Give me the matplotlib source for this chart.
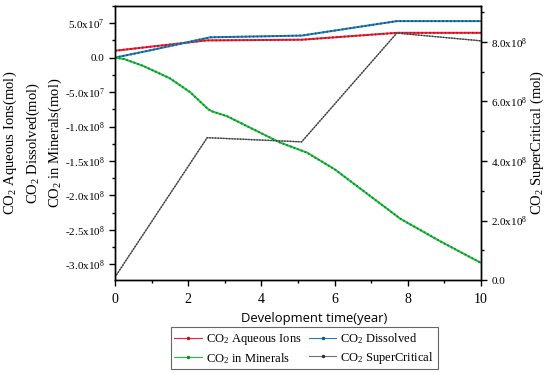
import math
import matplotlib
matplotlib.use("Agg")
import matplotlib.pyplot as plt
from matplotlib.ticker import FuncFormatter, MultipleLocator
from matplotlib.lines import Line2D

plt.rcParams['font.family'] = ['Liberation Serif', 'DejaVu Serif']
plt.rcParams['mathtext.fontset'] = 'custom'
plt.rcParams['mathtext.rm'] = 'Liberation Serif'
plt.rcParams['mathtext.it'] = 'Liberation Serif:italic'

# ---- data ----
t_aq = [0, 2.5, 5.1, 7.7, 10]
aqueous = [1.0e7, 2.5e7, 2.6e7, 3.6e7, 3.6e7]

t_dis = [0, 1.0, 2.6, 5.1, 7.7, 10]
dissolved = [0.0, 1.1e7, 2.95e7, 3.2e7, 5.3e7, 5.3e7]

t_min = [0, 0.25, 0.77, 1.5, 2.05, 2.55, 2.65, 3.06, 4.5, 5.25, 6.0, 6.9, 7.8, 8.9, 10]
minerals = [0, -2e6, -1.2e7, -3.0e7, -5.0e7, -7.5e7, -7.8e7, -8.5e7, -1.23e8,
            -1.38e8, -1.62e8, -1.98e8, -2.34e8, -2.67e8, -2.98e8]

t_sc = [0, 2.52, 5.1, 7.7, 10]
supercritical = [0.1e8, 4.78e8, 4.64e8, 8.29e8, 8.03e8]

labels = [r'CO$_2$ Aqueous Ions', r'CO$_2$ Dissolved', r'CO$_2$ in Minerals', r'CO$_2$ SuperCritical']
colors = ['#f0203a', '#2080b8', '#20c040', '#707070']
dot_colors = ['#c01020', '#105a88', '#108a30', '#303030']

def sci(v, pos):
    if v == 0:
        return '0.0'
    e = int(math.floor(math.log10(abs(v)) + 1e-9))
    m = v / 10**e
    return r'%.1fx10$^{%d}$' % (m, e)

fig = plt.figure(figsize=(5.5, 3.73), dpi=100)
ax = fig.add_axes([0.209, 0.249, 0.6655, 0.735])
ax2 = ax.twinx()

def draw(a, x, y, c, dc, lw=1.4, dotlw=1.4):
    a.plot(x, y, color=c, lw=lw, solid_capstyle='butt')
    a.plot(x, y, color=dc, lw=dotlw, linestyle=(0, (0.8, 1.2)))

draw(ax, t_aq, aqueous, colors[0], dot_colors[0])
draw(ax, t_dis, dissolved, colors[1], dot_colors[1])
draw(ax, t_min, minerals, colors[2], dot_colors[2])
draw(ax2, t_sc, supercritical, colors[3], dot_colors[3], lw=0.9, dotlw=1.0)

ax.set_xlim(0, 10)
ax.set_ylim(-3.23e8, 7.5e7)
ax2.set_ylim(0, 9.2e8)

ax.xaxis.set_major_locator(MultipleLocator(2))
ax.xaxis.set_minor_locator(MultipleLocator(1))
ax.yaxis.set_major_locator(MultipleLocator(5e7))
ax.yaxis.set_minor_locator(MultipleLocator(2.5e7))
ax2.yaxis.set_major_locator(MultipleLocator(2e8))
ax2.yaxis.set_minor_locator(MultipleLocator(1e8))
ax.yaxis.set_major_formatter(FuncFormatter(sci))
ax2.yaxis.set_major_formatter(FuncFormatter(sci))

for a in (ax, ax2):
    a.tick_params(which='major', direction='out', length=4, width=1, labelsize=8)
    a.tick_params(which='minor', direction='out', length=2.5, width=1)
    for s in a.spines.values():
        s.set_linewidth(1.0)
ax.tick_params(axis='x', labelsize=10, pad=5)

ax.set_xlabel('Development time(year)', fontsize=9.4, family='Open Sans', labelpad=2)
ax.xaxis.set_label_coords(0.544, -0.115)
fig.text(33 / 550, 0.617,
         'CO$_2$ Aqueous Ions(mol)\nCO$_2$ Dissolved(mol)\nCO$_2$ in Minerals(mol)',
         fontsize=10.5, linespacing=1.4, rotation=90, ha='center', va='center',
         multialignment='center')
fig.text(537 / 550, 0.617, 'CO$_2$ SuperCritical (mol)', fontsize=10.5,
         rotation=90, ha='center', va='center')

handles = [Line2D([0], [0], color=c, lw=0.8, marker='.', markersize=3,
                  markerfacecolor=dc, markeredgecolor=dc)
           for c, dc in zip(colors, dot_colors)]
order = [0, 2, 1, 3]
leg = fig.legend([handles[i] for i in order], [labels[i] for i in order],
                 loc='center', bbox_to_anchor=(0.553, 0.066),
                 ncol=2, fontsize=9, frameon=True, fancybox=False, edgecolor='#404040',
                 handlelength=2.2, handletextpad=0.3, columnspacing=0.6,
                 borderpad=0.3, labelspacing=0.3)
leg.get_frame().set_linewidth(0.8)

fig.savefig('out.png', dpi=100)
